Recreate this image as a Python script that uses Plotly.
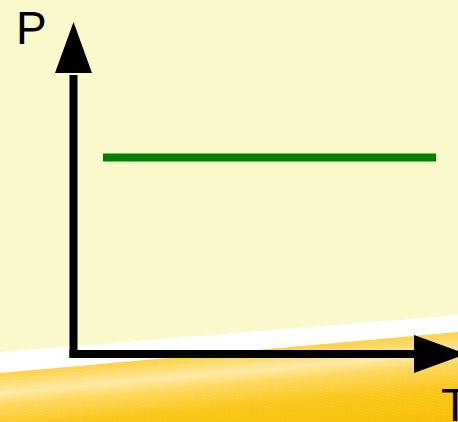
import plotly.graph_objects as go

# Data: isobaric process (constant pressure P over a range of temperature T)
T_values = [0.295, 3.625]
P_values = [1.965, 1.965]
x_label = "T"
y_label = "P"

W, H = 458, 422
X0, Y0 = 73.5, 354.0  # pixel position of origin
S = 100.0  # pixels per unit

x_range = [-X0 / S, (W - X0) / S]
y_range = [-(H - Y0) / S, Y0 / S]


def px_x(px):
    return (px - X0) / S


def px_y(py):
    return (Y0 - py) / S


def hex_to_rgb(h):
    h = h.lstrip('#')
    return tuple(int(h[i:i + 2], 16) for i in (0, 2, 4))


def lerp_color(stops, d):
    for (d0, c0), (d1, c1) in zip(stops, stops[1:]):
        if d0 <= d <= d1:
            t = (d - d0) / (d1 - d0) if d1 > d0 else 0
            a, b = hex_to_rgb(c0), hex_to_rgb(c1)
            return 'rgb(%d,%d,%d)' % tuple(round(a[i] + (b[i] - a[i]) * t) for i in range(3))
    return stops[-1][1]


shapes = []

# white band
def edge(y_left, y_right):
    return y_left, y_right

wl, wr = 352, 315
shapes.append(dict(type='path', xref='x', yref='y', layer='below',
                   path='M %f,%f L %f,%f L %f,%f L %f,%f Z' % (
                       px_x(-5), px_y(wl + (wr - wl) * (-5) / W), px_x(W + 5), px_y(wr + (wr - wl) * 5 / W),
                       px_x(W + 5), px_y(H + 10), px_x(-5), px_y(H + 10)),
                   fillcolor='white', line=dict(width=0)))

# gold gradient band (slanted strips)
gl, gr = 373, 332
stops = [(0, '#FCD248'), (6, '#FDD860'), (20, '#FEE8A4'), (32, '#FDD860'),
         (55, '#F9C71C'), (100, '#F6BE00')]
step = 1.5
d = 0.0
while d < 100:
    c = lerp_color(stops, d + step / 2)
    yl0, yr0 = gl + d, gr + d
    yl1, yr1 = gl + d + step + 0.6, gr + d + step + 0.6
    shapes.append(dict(type='path', xref='x', yref='y', layer='below',
                       path='M %f,%f L %f,%f L %f,%f L %f,%f Z' % (
                           px_x(-5), px_y(yl0 - (gr - gl) * 5 / W), px_x(W + 5), px_y(yr0 + (gr - gl) * 5 / W),
                           px_x(W + 5), px_y(yr1 + (gr - gl) * 5 / W), px_x(-5), px_y(yl1 - (gr - gl) * 5 / W)),
                       fillcolor=c, line=dict(width=0)))
    d += step

# axis arrows
lw = 8
shapes.append(dict(type='line', xref='x', yref='y', x0=0, y0=px_y(Y0 + lw / 2), x1=0, y1=px_y(75),
                   line=dict(color='black', width=lw)))
shapes.append(dict(type='line', xref='x', yref='y', x0=px_x(X0 - lw / 2), y0=0, x1=px_x(417), y1=0,
                   line=dict(color='black', width=lw)))
shapes.append(dict(type='path', xref='x', yref='y',
                   path='M %f,%f L %f,%f L %f,%f Z' % (px_x(55), px_y(73), px_x(92), px_y(73), px_x(73.5), px_y(22)),
                   fillcolor='black', line=dict(width=0)))
shapes.append(dict(type='path', xref='x', yref='y',
                   path='M %f,%f L %f,%f L %f,%f Z' % (px_x(414), px_y(335), px_x(414), px_y(373), px_x(466), px_y(354)),
                   fillcolor='black', line=dict(width=0)))

fig = go.Figure()
fig.add_trace(go.Scatter(x=T_values, y=P_values, mode='lines',
                         line=dict(color='#008000', width=8), hoverinfo='skip', showlegend=False))

font = dict(family='Liberation Sans, Arial, sans-serif', size=46, color='black')
annotations = [
    dict(x=px_x(14), y=px_y(28), xref='x', yref='y', text=y_label, showarrow=False,
         xanchor='left', yanchor='middle', font=font),
    dict(x=px_x(439), y=px_y(405), xref='x', yref='y', text=x_label, showarrow=False,
         xanchor='left', yanchor='middle', font=font),
]

fig.update_layout(
    width=W, height=H, autosize=False,
    margin=dict(l=0, r=0, t=0, b=0, pad=0),
    paper_bgcolor='#F9F9CC', plot_bgcolor='rgba(0,0,0,0)',
    xaxis=dict(range=x_range, visible=False, fixedrange=True),
    yaxis=dict(range=y_range, visible=False, fixedrange=True),
    shapes=shapes, annotations=annotations, showlegend=False,
)

fig.write_html("out.html", config={'displayModeBar': False},
               post_script="document.body.style.margin='0';document.body.style.overflow='hidden';")
